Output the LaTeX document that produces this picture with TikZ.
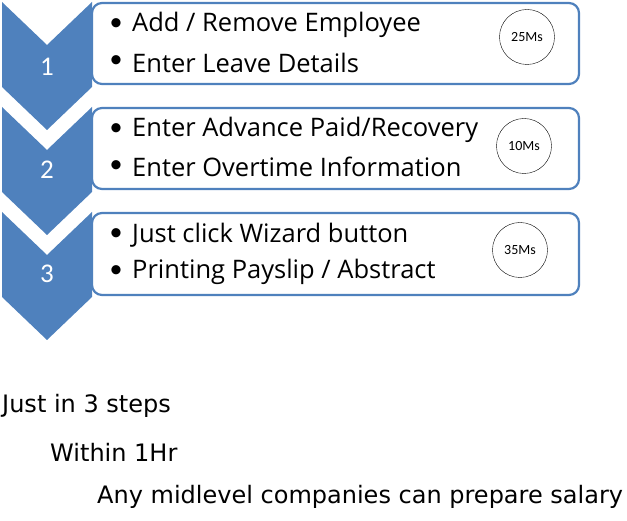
\documentclass[tikz,border=0pt]{standalone}
\usepackage{fontspec}
\setmainfont{Open Sans}
\newfontfamily\cfont{Carlito}
\newfontfamily\vfont{DejaVu Sans}
\definecolor{cblue}{HTML}{4F81BD}
\begin{document}
\begin{tikzpicture}[x=1pt,y=-1pt,
 chev/.style={fill=cblue,draw=none},
 box/.style={draw=cblue,line width=2.2pt,fill=white,rounded corners=10pt},
 num/.style={text=white,font=\cfont\fontsize{27}{27}\selectfont},
 item/.style={anchor=west,font=\fontsize{25.5}{25.5}\selectfont,inner sep=0},
 bul/.style={font=\cfont\fontsize{26}{26}\selectfont,inner sep=0},
 circ/.style={circle,draw,minimum size=55pt,inner sep=0,font=\cfont\fontsize{14}{14}\selectfont},
 foot/.style={anchor=west,font=\vfont\fontsize{24}{24}\selectfont,inner sep=0}]
\useasboundingbox (0,0) rectangle (627,521);
\foreach \o in {0,105,210}{
 \fill[chev] (2,2+\o) -- (47,45+\o) -- (92,2+\o) -- (92,87+\o) -- (47,130+\o) -- (2,87+\o) -- cycle;
}
\draw[box] (92,3) rectangle (579,84);
\draw[box] (92,108) rectangle (579,189);
\draw[box] (92,213) rectangle (579,295);
\foreach \o in {0,105,210}{
 \node[bul] at (116,25+\o) {\textbullet};
 \node[bul] at (116,62+\o) {\textbullet};
}
\node[num] (n1) at (47,67) {1};
\node[num] (n2) at (47,170) {2};
\node[num] (n3) at (47,274) {3};
\node[item] (a1) at (132,25) {Add / Remove Employee};
\node[item] (a2) at (132,63) {Enter Leave Details};
\node[item] (b1) at (132,130) {Enter Advance Paid/Recovery};
\node[item] (b2) at (132,167) {Enter Overtime Information};
\node[item] (c1) at (132,235) {Just click Wizard button};
\node[item] (c2) at (132,272) {Printing Payslip / Abstract};
\node[circ] (k1) at (527,37) {25Ms};
\node[circ] (k2) at (524,146) {10Ms};
\node[circ] (k3) at (520,250) {35Ms};
\node[foot] (f1) at (2,406) {Just in 3 steps};
\node[foot] (f2) at (50,452) {Within 1Hr};
\node[foot] (f3) at (97,497) {Any midlevel companies can prepare salary};
\end{tikzpicture}
\end{document}
